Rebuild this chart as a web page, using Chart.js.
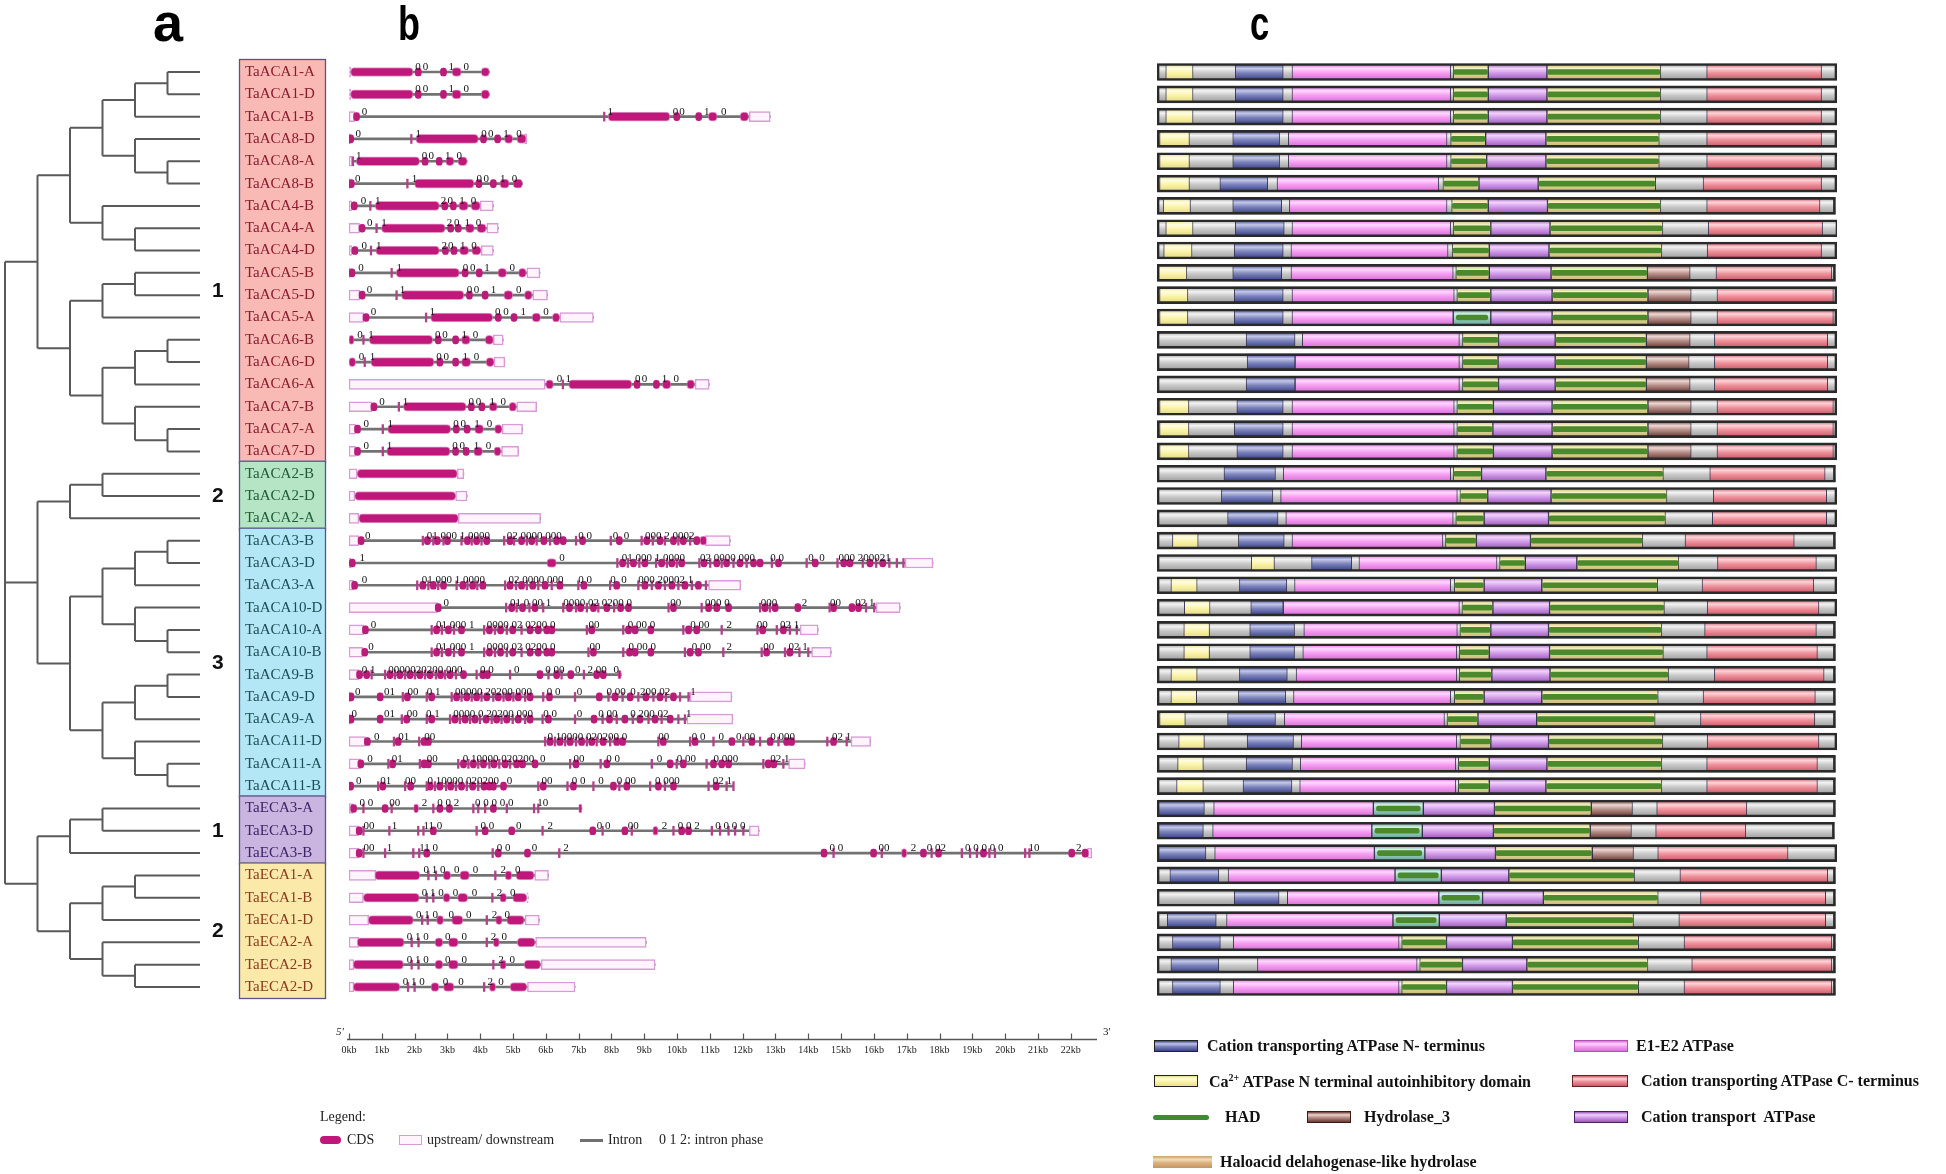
<!DOCTYPE html>
<html><head><meta charset="utf-8">
<script src="https://cdn.jsdelivr.net/npm/chart.js@4.4.1/dist/chart.umd.min.js"></script>
<style>
html,body{margin:0;padding:0;background:#fff;}
#wrap{position:relative;width:1946px;height:1174px;overflow:hidden;background:#fff;}
canvas{position:absolute;top:0;}
.t{position:absolute;white-space:nowrap;line-height:1;}
.pl{font-family:"Liberation Sans",Arial,sans-serif;font-weight:bold;color:#000;transform-origin:left top;}
.ser{font-family:"Liberation Serif","Times New Roman",serif;color:#222;font-size:14px;}
.lg{font-family:"Liberation Serif","Times New Roman",serif;font-weight:bold;font-size:16px;color:#111;}
.sw{position:absolute;box-sizing:border-box;}
</style></head><body><div id="wrap">
<canvas id="cTree" width="235" height="1174" style="left:0"></canvas>
<canvas id="cGene" width="885" height="1174" style="left:235px"></canvas>
<canvas id="cDom" width="806" height="1174" style="left:1140px"></canvas>

<div class="t pl" style="left:153px;top:-5px;font-size:54px;">a</div>
<div class="t pl" style="left:398px;top:0px;font-size:48px;transform:scaleX(0.75);">b</div>
<div class="t pl" style="left:1250px;top:0px;font-size:48px;transform:scaleX(0.72);">c</div>

<div class="t ser" style="left:336px;top:1026px;font-size:11px;font-style:italic;">5'</div>
<div class="t ser" style="left:1103px;top:1026px;font-size:11px;">3'</div>

<div class="t ser" style="left:320px;top:1110px;">Legend:</div>
<div class="sw" style="left:320px;top:1136px;width:21px;height:8px;background:#c0187a;border-radius:4px;"></div>
<div class="t ser" style="left:347px;top:1133px;">CDS</div>
<div class="sw" style="left:399px;top:1135px;width:23px;height:10px;background:#fff4fc;border:1.5px solid #d79bd7;"></div>
<div class="t ser" style="left:427px;top:1133px;">upstream/ downstream</div>
<div class="sw" style="left:580px;top:1139px;width:23px;height:3px;background:#707070;"></div>
<div class="t ser" style="left:608px;top:1133px;">Intron</div>
<div class="t ser" style="left:659px;top:1133px;">0 1 2: intron phase</div>

<div class="sw" style="left:1154px;top:1040px;width:44px;height:12px;border:1.5px solid #222;background:linear-gradient(#3a4288,#c0c4e6 28%,#7d84bc 55%,#3a4288);"></div>
<div class="t lg" style="left:1207px;top:1038px;">Cation transporting ATPase N- terminus</div>
<div class="sw" style="left:1574px;top:1040px;width:54px;height:12px;border:1px solid #b050b0;background:linear-gradient(#d870d8,#ffd4ff 28%,#f6a0f2 55%,#d870d8);"></div>
<div class="t lg" style="left:1636px;top:1038px;">E1-E2 ATPase</div>

<div class="sw" style="left:1154px;top:1075px;width:44px;height:12px;border:1.5px solid #222;background:linear-gradient(#e8e08a,#fffde0 28%,#fbf4a8 55%,#e8e08a);"></div>
<div class="t lg" style="left:1209px;top:1073px;">Ca<sup style="font-size:10px;">2+</sup> ATPase N terminal autoinhibitory domain</div>
<div class="sw" style="left:1572px;top:1075px;width:56px;height:12px;border:1.5px solid #6a2020;background:linear-gradient(#c85a68,#fcd0d4 28%,#f0929c 55%,#c85a68);"></div>
<div class="t lg" style="left:1641px;top:1073px;">Cation transporting ATPase C- terminus</div>

<div class="sw" style="left:1153px;top:1115px;width:56px;height:5px;background:#3f8a35;border-radius:3px;"></div>
<div class="t lg" style="left:1225px;top:1109px;">HAD</div>
<div class="sw" style="left:1307px;top:1111px;width:44px;height:12px;border:1.5px solid #3a1a14;background:linear-gradient(#6a3a32,#ecd4d0 28%,#b8908a 55%,#6a3a32);"></div>
<div class="t lg" style="left:1364px;top:1109px;">Hydrolase_3</div>
<div class="sw" style="left:1574px;top:1111px;width:54px;height:12px;border:1.5px solid #4a2060;background:linear-gradient(#9a5ab8,#f0d0fa 28%,#d29cea 55%,#9a5ab8);"></div>
<div class="t lg" style="left:1641px;top:1109px;">Cation transport&nbsp; ATPase</div>

<div class="sw" style="left:1153px;top:1156px;width:59px;height:12px;background:linear-gradient(#c8a070,#f4dcb4 30%,#dcb482 55%,#c49464);"></div>
<div class="t lg" style="left:1220px;top:1154px;">Haloacid delahogenase-like hydrolase</div>
</div>
<script>
// ---------------- DATA ----------------
const genes = ['TaACA1-A','TaACA1-D','TaACA1-B','TaACA8-D','TaACA8-A','TaACA8-B','TaACA4-B','TaACA4-A','TaACA4-D','TaACA5-B','TaACA5-D','TaACA5-A','TaACA6-B','TaACA6-D','TaACA6-A','TaACA7-B','TaACA7-A','TaACA7-D','TaACA2-B','TaACA2-D','TaACA2-A','TaACA3-B','TaACA3-D','TaACA3-A','TaACA10-D','TaACA10-A','TaACA10-B','TaACA9-B','TaACA9-D','TaACA9-A','TaACA11-D','TaACA11-A','TaACA11-B','TaECA3-A','TaECA3-D','TaECA3-B','TaECA1-A','TaECA1-B','TaECA1-D','TaECA2-A','TaECA2-B','TaECA2-D'];

// cladogram: [nodeDepth, children...], leaves = row index
const tree = [0,
  [1,
    [2, [3, [4, [5,0,1], 2], [4, 3, [5,4,5]]], [3, 6, [4,7,8]]],
    [2, [3, [4,9,10], 11], [3, [4, [5,12,13], 14], [4, 15, [5,16,17]]]]
  ],
  [1,
    [2, [3,18,19], 20],
    [2, [3, [4, [5,21,22], 23], [4, 24, [5,25,26]]], [3, [4, [5,27,28], 29], [4, 30, [5,31,32]]]]
  ],
  [1,
    [2, [3,33,34], 35],
    [2, [3, [4,36,37], 38], [3, 39, [4,40,41]]]
  ]
];
const leafDepth = 6;

const groupFirst = [0,18,21,33,36];
const groupLast  = [17,20,32,35,41];
const groupNumber = ['1','2','3','1','2'];
const groupNumberRow = [9.8,19,26.5,34,38.5];

// gene structure (kb)
const utr = [
 [0,0.05],[0,0.05],[0,0.18,12.2,12.84],[0,0.04,5.35,5.42],[0,0.1],[0,0.03],
 [0,0.08,4.0,4.4],[0,0.32,4.2,4.55],[0,0.08,4.03,4.4],[0,0.03,5.42,5.82],[0,0.33,5.6,6.05],[0,0.45,6.43,7.45],
 [4.4,4.7],[4.42,4.75],[0,5.98,10.55,10.98],[0,0.7,5.11,5.72],[0,0.2,4.67,5.29],[0,0.2,4.65,5.17],
 [0,0.25,3.3,3.5],[0,0.18,3.25,3.6],[0,0.3,3.33,5.84],
 [0,0.3,10.85,11.62],[0,0.05,16.95,17.8],[0,0.15,10.96,11.94],[0,2.7,16.07,16.8],[0,0.45,13.75,14.3],[0,0.42,14.1,14.7],
 [0,0.3],[0,0.03,10.4,11.67],[0,0.03,10.3,11.7],[0,0.5,15.3,15.9],[0,0.35,13.4,13.9],[],
 [0,0.12],[0,0.3,12.2,12.5],[0,0.3,22.51,22.64],
 [0,0.82,5.66,6.08],[0,0.44,5.42,5.46],[0,0.6,5.37,5.8],[0,0.3,5.69,9.06],[0,0.15,5.86,9.33],[0,0.15,5.44,6.89]
];
const cds = [
 [0.05,1.95,3.14,3.42,4.03,4.28],
 [0.05,1.95,3.14,3.42,4.03,4.28],
 [7.9,9.78,10.95,11.22,11.92,12.18],
 [2.04,3.94,4.74,4.99,5.12,5.4],
 [0.22,2.15,2.95,3.2,3.32,3.6],
 [2.0,3.81,4.6,4.88,5.0,5.29],
 [0.8,2.75,3.35,3.63,3.72,4.0],
 [0.99,2.93,3.55,3.82,3.9,4.18],
 [0.82,2.75,3.37,3.65,3.74,4.02],
 [1.44,3.36,4.54,4.8,5.17,5.4],
 [1.6,3.5,4.72,4.99,5.35,5.58],
 [2.49,4.38,5.58,5.84,6.2,6.42],
 [0,0.15,0.62,2.55,3.43,3.69,4.15,4.4],
 [0,0.2,0.67,2.59,3.43,3.71,4.18,4.42],
 [6.0,6.23,6.7,8.62,9.55,9.81,10.3,10.53],
 [1.66,3.57,4.27,4.52,4.88,5.1],
 [1.18,3.1,3.83,4.1,4.44,4.66],
 [1.15,3.08,3.8,4.07,4.42,4.63],
 [0.25,3.3],[0.18,3.25],[0.3,3.33],
 [10.7,10.9],[6.03,6.32],[],[],[],[],
 [8.19,8.3],[],[],[],[],[],
 [1.97,2.12,7.0,7.1],[9.26,9.42],[16.84,17.0],
 [0.79,2.16,2.87,3.1,3.38,3.67,4.76,4.96,5.09,5.64],
 [0.44,2.14,2.87,3.08,3.31,3.62,4.6,4.8,4.99,5.42],
 [0.59,1.96,2.67,2.88,3.13,3.47,4.47,4.67,4.81,5.34],
 [0.25,1.68,2.62,2.86,3.03,3.33,4.4,4.58,5.13,5.67],
 [0.13,1.66,2.62,2.86,3.03,3.33,4.6,4.79,5.34,5.84],
 [0.13,1.55,2.5,2.74,2.88,3.2,4.28,4.47,4.91,5.42]
];
// short exons drawn as dots (centres, kb)
const dots = [
 [2.11,2.88],[2.11,2.88],[0.23,9.99,10.66],[0.05,4.1,4.53],[2.32,2.75],[0.07,3.96,4.4],
 [0.16,2.92,3.18],[0.4,3.1,3.33],[0.18,2.94,3.2],[0.09,3.54,3.97],[0.4,3.67,4.15],[0.52,4.55,5.03],
 [2.72,3.25],[2.77,3.25],[8.78,9.37],[0.76,3.73,4.05],[0.26,3.27,3.6],[0.26,3.25,3.57],
 [],[],[],
 [0.37,2.39,2.69,3.0,3.61,3.89,4.2,4.91,5.26,5.57,5.94,6.33,6.53,7.12,8.24,9.08,9.48,9.89,10.19,10.6],
 [0.1,8.34,8.67,9.02,9.53,9.84,10.14,10.82,11.21,11.51,11.92,12.33,12.53,13.09,14.21,15.08,15.27,15.88,16.27],
 [0.17,2.25,2.57,2.88,3.47,3.77,4.08,4.91,5.26,5.6,5.98,6.43,7.16,8.16,9.02,9.43,9.84,10.24,10.65],
 [2.72,4.96,5.29,5.67,6.72,7.06,7.45,7.86,8.28,8.52,9.89,10.96,11.21,11.57,12.68,12.99,13.68,14.77,15.33,15.53],
 [0.5,2.67,3.03,3.43,4.28,4.62,4.99,5.52,5.77,6.03,6.18,7.4,8.52,8.72,9.2,10.35,10.6,12.61,13.24],
 [0.48,2.67,3.03,3.43,4.28,4.62,4.99,5.52,5.77,6.03,6.18,7.45,8.55,8.72,9.2,10.4,10.65,12.73,13.44],
 [0.32,0.54,1.25,1.55,1.86,2.16,2.47,2.79,3.08,3.49,4.08,4.22,5.82,6.33,6.76,7.55,7.75],
 [0.06,0.95,1.78,2.52,3.28,3.59,3.89,4.2,4.55,4.86,5.16,5.52,6.11,7.63,8.11,8.57,9.05,9.48,9.89],
 [0.06,0.95,1.76,2.52,3.23,3.54,3.84,4.18,4.5,4.81,5.16,5.52,6.08,7.47,7.94,8.41,8.87,9.33,9.79],
 [0.56,1.5,2.29,2.42,6.13,6.43,6.74,7.09,7.4,7.75,8.16,8.34,9.58,10.55,11.67,12.28,12.84,13.34,13.49,14.77],
 [0.36,1.33,2.29,2.42,3.49,3.79,4.1,4.42,4.76,5.11,5.29,5.67,6.92,7.86,9.79,10.19,11.11,11.36,11.57,12.78,12.95],
 [0.05,1.03,1.88,2.47,2.77,3.1,3.43,3.77,4.12,4.28,4.4,4.71,5.92,6.84,8.06,8.47,9.43,9.89,11.19],
 [0.14,1.1,2.77,3.06,4.4],
 [0.31,2.57,4.15,4.96,7.43,8.41,10.14,10.35],
 [0.31,2.37,4.55,5.44,14.48,15.99,17.51,17.97,19.34,22.03,22.44],
 [],[],[],[],[],[]
];
// very short exons drawn as ticks (centres, kb)
const ticks = [
 [],[],[7.78],[1.9],[0.12],[1.78],
 [0.65],[0.84],[0.67],[1.3],[1.45],[2.35],
 [0.44],[0.48],[6.52],[1.52],[1.03],[1.03],
 [],[],[],
 [2.25,2.57,2.88,3.43,3.74,4.04,4.73,5.03,5.42,5.72,6.13,6.92,7.98,8.92,9.26,9.63,10.04,10.4],
 [8.18,8.5,8.85,9.36,9.69,9.99,10.68,11.01,11.36,11.72,12.12,12.89,13.95,14.89,15.66,16.07,16.47,16.7,16.9],
 [2.08,2.42,2.72,3.28,3.61,3.91,4.76,5.09,5.42,5.77,6.18,6.99,7.96,8.82,9.23,9.63,10.04,10.45,10.88],
 [4.79,5.11,5.5,5.92,6.53,6.92,7.25,7.6,8.08,9.74,10.75,12.53,12.83,14.65,15.76,16.01],
 [2.52,2.83,3.2,4.12,4.45,4.81,5.26,7.25,8.36,10.19,11.36,12.45,13.04,13.44,13.65],
 [2.52,2.83,3.2,4.12,4.45,4.81,5.26,7.3,8.36,10.24,11.41,12.58,13.29,13.73,14.0],
 [0.69,1.1,1.4,1.71,2.01,2.32,2.65,2.93,3.26,3.89,4.91,6.08,6.48,7.16],
 [1.64,2.37,3.13,3.43,3.74,4.04,4.4,4.71,5.01,5.37,5.92,6.89,7.91,8.34,8.82,9.28,9.66,10.09,10.35],
 [1.61,2.37,3.08,3.38,3.69,3.99,4.35,4.65,4.99,5.37,5.9,6.89,7.73,8.16,8.65,9.13,9.53,10.04,10.24],
 [1.37,2.14,5.98,6.28,6.59,6.92,7.25,7.55,7.96,9.43,10.4,11.11,12.02,12.53,13.09,14.58,15.17],
 [1.2,2.16,3.33,3.64,3.94,4.28,4.58,4.91,6.74,7.67,9.23,9.99,10.9,12.63,13.24],
 [0.89,1.71,2.37,2.62,2.96,3.26,3.59,3.94,5.77,6.66,7.45,8.24,9.18,9.63,10.96,11.51,11.72],
 [0.44,1.3,2.57,3.79,3.94,4.15,4.81,5.64,5.77],
 [0.44,1.23,2.11,2.27,3.89,5.9,7.73,8.62,9.89,11.06,11.31,11.57,11.77,12.02],
 [0.44,1.1,1.96,2.14,4.38,6.41,14.77,16.24,17.76,18.68,18.93,19.14,19.52,19.69,20.61,20.74],
 [2.42,2.65,4.46],[2.37,2.57,4.37],[2.23,2.4,4.2],[1.91,2.12,4.2],[1.91,2.12,4.4],[1.8,2.0,4.12]
];
// intron phase labels [kb, text]
const phases = [
 [[2.02,'0'],[2.25,'0'],[3.03,'1'],[3.49,'0']],
 [[2.02,'0'],[2.25,'0'],[3.03,'1'],[3.49,'0']],
 [[0.39,'0'],[7.88,'1'],[9.87,'0'],[10.07,'0'],[10.82,'1'],[11.34,'0']],
 [[0.2,'0'],[2.03,'1'],[4.03,'0'],[4.24,'0'],[4.7,'1'],[5.1,'0']],
 [[0.21,'1'],[2.22,'0'],[2.42,'0'],[2.93,'1'],[3.28,'0']],
 [[0.18,'0'],[1.91,'1'],[3.89,'0'],[4.1,'0'],[4.6,'1'],[4.96,'0']],
 [[0.36,'0'],[0.79,'1'],[2.8,'2'],[3.0,'0'],[3.36,'1'],[3.71,'0']],
 [[0.55,'0'],[0.98,'1'],[2.98,'2'],[3.2,'0'],[3.52,'1'],[3.86,'0']],
 [[0.38,'0'],[0.82,'1'],[2.82,'2'],[3.02,'0'],[3.38,'1'],[3.73,'0']],
 [[0.28,'0'],[1.45,'1'],[3.47,'0'],[3.69,'0'],[4.12,'1'],[4.89,'0']],
 [[0.54,'0'],[1.55,'1'],[3.59,'0'],[3.8,'0'],[4.32,'1'],[5.09,'0']],
 [[0.66,'0'],[2.45,'1'],[4.45,'0'],[4.7,'0'],[5.23,'1'],[5.92,'0']],
 [[0.25,'0'],[0.59,'1'],[2.62,'0'],[2.84,'0'],[3.43,'1'],[3.77,'0']],
 [[0.3,'0'],[0.63,'1'],[2.66,'0'],[2.88,'0'],[3.46,'1'],[3.8,'0']],
 [[6.33,'0'],[6.6,'1'],[8.72,'0'],[8.92,'0'],[9.53,'1'],[9.89,'0']],
 [[0.92,'0'],[1.64,'1'],[3.64,'0'],[3.86,'0'],[4.28,'1'],[4.62,'0']],
 [[0.44,'0'],[1.17,'1'],[3.18,'0'],[3.4,'0'],[3.82,'1'],[4.2,'0']],
 [[0.44,'0'],[1.15,'1'],[3.15,'0'],[3.37,'0'],[3.8,'1'],[4.17,'0']],
 [],[],[],
 [[0.49,'0'],[2.37,'01 000 1 0000'],[4.81,'02 0000 000'],[6.99,'0 0'],[8.04,'0  0'],[9.02,'000 2 0002']],
 [[0.32,'1'],[6.41,'0'],[8.31,'01 000 1 0000'],[10.7,'02 0000 000'],[12.84,'0 0'],[14.0,'0  0'],[14.92,'000 200021']],
 [[0.39,'0'],[2.22,'01 000 1 0000'],[4.86,'02 0000 000'],[6.99,'0 0'],[7.96,'0  0'],[8.82,'000 20002 1']],
 [[2.88,'0'],[4.91,'01 0 00 1'],[6.53,'0000 02 0200 0'],[9.79,'00'],[10.85,'000 0'],[12.55,'000'],[13.8,'2'],[14.66,'00'],[15.43,'02 1']],
 [[0.66,'0'],[2.65,'01 000 1'],[4.2,'0000 02 0200 0'],[7.3,'00'],[8.5,'0 00 0'],[10.4,'0 00'],[11.51,'2'],[12.43,'00'],[13.14,'02 1']],
 [[0.59,'0'],[2.65,'01 000 1'],[4.2,'0000 02 0200 0'],[7.33,'00'],[8.52,'0 00 0'],[10.45,'0 00'],[11.51,'2'],[12.63,'00'],[13.4,'02 1']],
 [[0.39,'0 1'],[1.2,'0000020200 000'],[3.99,'0 0'],[5.03,'0'],[5.98,'0 00'],[6.89,'0'],[7.27,'2 00'],[8.06,'0']],
 [[0.18,'0'],[1.07,'01'],[1.78,'00'],[2.37,'0 1'],[3.23,'00000 20200 000'],[6.03,'0 0'],[6.94,'0'],[7.85,'0 00'],[8.57,'0'],[8.87,'200 02'],[10.4,'1']],
 [[0.08,'0'],[1.07,'01'],[1.76,'00'],[2.35,'0 1'],[3.18,'0000 0 20200 000'],[5.92,'0 0'],[6.94,'0'],[7.6,'0 00'],[8.57,'0'],[8.82,'200 02'],[10.27,'1']],
 [[0.76,'0'],[1.5,'01'],[2.29,'00'],[6.05,'0 10000 020200 0'],[9.43,'00'],[10.45,'0 0'],[11.26,'0'],[11.8,'0 00'],[12.84,'0 000'],[14.72,'02 1']],
 [[0.56,'0'],[1.3,'01'],[2.37,'00'],[3.47,'0 10000 020200'],[5.82,'0'],[6.84,'00'],[7.84,'0 0'],[9.38,'0'],[9.99,'0 00'],[11.11,'0 000'],[12.84,'02 1']],
 [[0.21,'0'],[0.95,'01'],[1.71,'00'],[2.39,'0 10000 020200'],[4.81,'0'],[5.87,'00'],[6.79,'0 0'],[7.6,'0'],[8.16,'0 00'],[9.33,'0 000'],[11.09,'02 1']],
 [[0.32,'0 0'],[1.23,'00'],[2.22,'2'],[2.69,'0 0 2'],[3.84,'0 0 0 0 0'],[5.74,'10']],
 [[0.44,'00'],[1.3,'1'],[2.27,'11 0'],[4.01,'0 0'],[5.09,'0'],[6.05,'2'],[7.55,'0 0'],[8.5,'00'],[9.53,'2'],[10.02,'0 0 2'],[11.16,'0 0 0 0']],
 [[0.44,'00'],[1.15,'1'],[2.14,'11 0'],[4.5,'0 0'],[5.57,'0'],[6.53,'2'],[14.65,'0 0'],[16.14,'00'],[17.12,'2'],[17.61,'0 02'],[18.78,'0 0 0 0 0'],[20.71,'10'],[22.16,'2']],
 [[2.27,'0 1 0'],[3.2,'0'],[3.77,'0'],[4.62,'2'],[5.06,'0']],
 [[2.22,'0 1 0'],[3.16,'0'],[3.74,'0'],[4.5,'2'],[4.91,'0']],
 [[2.04,'0 1 0'],[3.03,'0'],[3.57,'0'],[4.35,'2'],[4.74,'0']],
 [[1.76,'0 1 0'],[2.93,'0'],[3.43,'0'],[4.32,'2'],[4.65,'0']],
 [[1.76,'0 1 0'],[2.93,'0'],[3.43,'0'],[4.55,'2'],[4.89,'0']],
 [[1.64,'0 1 0'],[2.86,'0'],[3.33,'0'],[4.22,'2'],[4.55,'0']]
];
const kbTicks = [0,1,2,3,4,5,6,7,8,9,10,11,12,13,14,15,16,17,18,19,20,21,22];

// protein domains (relative residue position)
const protLen = [1320,1320,1320,1320,1320,1320,1317,1322,1320,1317,1320,1320,1320,1320,1320,1320,1320,1320,1317,1320,1320,1317,1320,1320,1320,1317,1317,1317,1317,1317,1320,1317,1317,1317,1315,1320,1317,1317,1317,1317,1317,1317];
const domains = [
 ['Y',17,70,'N',152,245,'P',262,570,'H',575,643,'C',643,757,'H',757,978,'R',1067,1290],
 ['Y',17,70,'N',152,245,'P',262,570,'H',575,643,'C',643,757,'H',757,978,'R',1067,1290],
 ['Y',17,70,'N',152,245,'P',262,570,'H',575,643,'C',643,757,'H',757,978,'R',1067,1290],
 ['Y',5,63,'N',147,238,'P',255,563,'H',570,638,'C',638,755,'H',755,975,'R',1067,1290],
 ['Y',5,63,'N',147,238,'P',255,563,'H',570,640,'C',640,755,'H',755,975,'R',1067,1290],
 ['Y',5,63,'N',122,215,'P',233,547,'H',555,625,'C',625,740,'H',740,968,'R',1060,1290],
 ['Y',12,65,'N',147,242,'P',257,563,'H',572,643,'C',643,758,'H',758,978,'R',1067,1287],
 ['Y',17,70,'N',152,247,'P',262,570,'H',575,648,'C',648,763,'H',763,982,'R',1070,1292],
 ['Y',13,68,'N',150,245,'P',260,565,'H',573,645,'C',645,761,'H',761,980,'R',1068,1290],
 ['Y',3,58,'N',147,242,'P',260,575,'H',580,645,'C',645,765,'H',765,952,'D',952,1035,'R',1085,1310],
 ['Y',5,60,'N',150,245,'P',262,577,'H',582,648,'C',648,767,'H',767,953,'D',953,1037,'R',1087,1313],
 ['Y',5,60,'N',150,245,'P',262,575,'T',575,648,'C',648,767,'H',767,953,'D',953,1037,'R',1087,1313],
 ['N',173,268,'P',282,587,'H',593,663,'C',663,773,'H',773,950,'D',950,1035,'R',1082,1302],
 ['N',175,268,'P',268,587,'H',593,662,'C',662,773,'H',773,950,'D',950,1033,'R',1082,1302],
 ['N',173,268,'P',268,587,'H',593,663,'C',663,773,'H',773,950,'D',950,1035,'R',1082,1302],
 ['Y',5,62,'N',155,245,'P',262,577,'H',582,653,'C',653,767,'H',767,953,'D',953,1037,'R',1087,1313],
 ['Y',5,62,'N',150,245,'P',262,577,'H',582,652,'C',652,767,'H',767,953,'D',953,1037,'R',1087,1313],
 ['Y',5,62,'N',155,245,'P',262,577,'H',582,653,'C',653,767,'H',767,953,'D',953,1037,'R',1087,1313],
 ['N',130,230,'P',245,570,'H',575,630,'C',630,755,'H',755,983,'R',1073,1297],
 ['N',125,225,'P',240,583,'H',588,642,'C',642,765,'H',765,990,'R',1080,1300],
 ['N',137,235,'P',250,575,'H',580,635,'C',635,760,'H',760,987,'R',1078,1300],
 ['Y',30,80,'N',158,247,'P',262,555,'H',560,620,'C',620,725,'H',725,943,'R',1025,1237],
 ['Y',183,228,'N',300,378,'P',392,660,'H',665,715,'C',715,815,'H',815,1013,'R',1088,1280],
 ['Y',27,78,'N',160,252,'P',267,570,'H',577,635,'C',635,747,'H',747,972,'R',1058,1275],
 ['Y',53,103,'N',182,245,'P',245,587,'H',592,652,'C',652,762,'H',762,985,'R',1068,1285],
 ['Y',52,102,'N',180,267,'P',285,583,'H',588,648,'C',648,760,'H',760,980,'R',1063,1280],
 ['Y',52,102,'N',180,267,'P',283,582,'H',587,645,'C',645,762,'H',762,983,'R',1067,1282],
 ['Y',27,78,'N',160,253,'P',270,582,'H',587,650,'C',650,763,'H',763,993,'R',1082,1295],
 ['Y',27,77,'N',158,250,'P',265,570,'H',577,635,'C',635,747,'H',747,973,'R',1060,1278],
 ['Y',5,55,'N',137,230,'P',247,558,'H',563,623,'C',623,737,'H',737,967,'R',1055,1277],
 ['Y',42,92,'N',175,265,'P',280,582,'H',588,648,'C',648,760,'H',760,982,'R',1068,1285],
 ['Y',40,90,'N',173,263,'P',278,580,'H',585,645,'C',645,757,'H',757,980,'R',1067,1282],
 ['Y',38,90,'N',167,262,'P',277,580,'H',585,645,'C',645,755,'H',755,980,'R',1067,1282],
 ['N',0,92,'P',110,420,'T',420,517,'C',517,655,'H',655,843,'D',843,923,'R',970,1145],
 ['N',0,90,'P',108,417,'T',417,515,'C',515,653,'H',653,841,'D',841,921,'R',968,1143],
 ['N',0,95,'P',112,422,'T',422,520,'C',520,657,'H',657,845,'D',845,925,'R',972,1225],
 ['N',25,120,'P',138,462,'T',462,552,'C',552,683,'H',683,927,'R',1015,1302],
 ['N',150,237,'P',253,547,'T',547,632,'C',632,750,'H',750,973,'R',1055,1298],
 ['N',20,115,'P',135,458,'T',458,548,'C',548,678,'H',678,925,'R',1013,1298],
 ['N',30,123,'P',148,470,'H',475,562,'C',562,690,'H',690,935,'R',1023,1310],
 ['N',27,120,'P',195,505,'H',510,593,'C',593,718,'H',718,953,'R',1038,1310],
 ['N',30,123,'P',148,470,'H',475,562,'C',562,690,'H',690,935,'R',1023,1310]
];

// ---------------- STYLE ----------------
const boxFill = ['#f9b9b4','#b6e5c6','#b3e7f6','#c9b5e0','#fbe9a9'];
const boxText = ['#8a1b2e','#1f5c33','#1d4e56','#3b2566','#8a3a1c'];
const domColors = {
  G:['#9c9c9c','#f3f3f3','#c9c9c9'],
  Y:['#e2d986','#fffde4','#fbf4a8'],
  N:['#343c84','#c4c8e8','#7d84bc'],
  P:['#d46ad4','#ffd8ff','#f6a0f2'],
  H:['#c4b670','#f6f0c4','#e0d69c'],
  C:['#9656b4','#f2d4fb','#d29cea'],
  R:['#c45664','#fdd4d8','#f0929c'],
  D:['#643630','#eed8d4','#b8908a'],
  T:['#62a294','#d4f0ea','#9ed2c6']
};
const yMin = -0.493, yMax = 43.33;
const yScale = {type:'linear',min:yMin,max:yMax,reverse:true,bounds:'data',grace:0,offset:false};

function rowOf(i){ let g=0; for(let k=0;k<groupFirst.length;k++){ if(i>=groupFirst[k] && i<=groupLast[k]) g=k; } return g; }
function pairs(list){ const out=[]; list.forEach((arr,i)=>{ for(let k=0;k<arr.length;k+=2) out.push({x:[arr[k],arr[k+1]],y:i}); }); return out; }
function centred(list,h){ const out=[]; list.forEach((arr,i)=>arr.forEach(c=>out.push({x:[c-h,c+h],y:i}))); return out; }

// ---------------- TREE ----------------
const segs = [];
function lay(node){
  if (typeof node === 'number') return {y:node, x:leafDepth};
  const d = node[0]; const kids = node.slice(1).map(lay);
  const y0 = kids[0].y, y1 = kids[kids.length-1].y;
  segs.push([[d,y0],[d,y1]]);
  kids.forEach(k=>segs.push([[d,k.y],[k.x,k.y]]));
  return {y:(y0+y1)/2, x:d};
}
lay(tree);
const treePts = [];
segs.forEach(s=>{ treePts.push({x:s[0][0],y:s[0][1]},{x:s[1][0],y:s[1][1]},{x:NaN,y:NaN}); });

new Chart(document.getElementById('cTree'), {
  type:'scatter',
  data:{datasets:[{data:treePts, showLine:true, spanGaps:false, borderColor:'#5a5a5a', borderWidth:2, pointRadius:0, clip:false}]},
  options:{
    responsive:false, animation:false, devicePixelRatio:1,
    layout:{autoPadding:false,padding:{left:5,right:35,top:61,bottom:135}},
    plugins:{legend:{display:false},tooltip:{enabled:false}},
    scales:{
      x:{type:'linear',min:0,max:leafDepth,bounds:'data',display:false},
      y:Object.assign({display:false},yScale)
    }
  },
  plugins:[{id:'grpnum',afterDraw(chart){
    const c=chart.ctx, xs=chart.scales.x, ys=chart.scales.y;
    c.save(); c.font='bold 21px "Liberation Sans", Arial, sans-serif'; c.fillStyle='#111';
    c.textAlign='center'; c.textBaseline='middle';
    groupNumber.forEach((t,k)=>c.fillText(t, xs.getPixelForValue(6.55), ys.getPixelForValue(groupNumberRow[k])));
    c.restore();
  }}]
});

// ---------------- GENE STRUCTURE ----------------
const spans = genes.map((g,i)=>{
  const all = [].concat(utr[i], cds[i], dots[i], ticks[i]);
  return [Math.min(...all), Math.max(...all)];
});

new Chart(document.getElementById('cGene'), {
  type:'bar',
  data:{datasets:[
    {label:'Intron', data:spans.map((s,i)=>({x:s,y:i})), backgroundColor:'#727272', barThickness:2, order:30},
    {label:'upstream/downstream', data:pairs(utr), backgroundColor:'#fff4fc', borderColor:'#d79bd7', borderWidth:1.5, borderSkipped:false, barThickness:10, order:20},
    {label:'CDS', data:pairs(cds), backgroundColor:'#c0187a', borderColor:'rgba(214,110,180,0.7)', borderWidth:1, borderRadius:4, borderSkipped:false, barThickness:9, order:10},
    {label:'CDS short', data:centred(dots,0.09), backgroundColor:'#bb1b79', borderRadius:4, borderSkipped:false, barThickness:8, order:9},
    {label:'CDS tiny', data:centred(ticks,0.025), backgroundColor:'#b4408a', barThickness:9, order:8}
  ]},
  options:{
    indexAxis:'y', responsive:false, animation:false, devicePixelRatio:1,
    grouped:false,
    layout:{autoPadding:false,padding:{left:10,right:23,top:61,bottom:115}},
    plugins:{legend:{display:false},tooltip:{enabled:false}},
    scales:{
      x:{type:'linear',min:0,max:22.8,bounds:'data',position:'bottom',
         grid:{display:false,drawTicks:false}, border:{display:false},
         afterBuildTicks:(a)=>{a.ticks=kbTicks.map(v=>({value:v}));},
         afterFit:(a)=>{a.height=20;},
         ticks:{autoSkip:false,maxRotation:0,padding:5,color:'#222',font:{family:'"Liberation Serif", serif',size:10},callback:(v)=>v+'kb'}},
      y:Object.assign({
         grid:{display:false,drawTicks:false}, border:{display:false},
         afterBuildTicks:(a)=>{a.ticks=genes.map((g,i)=>({value:i}));},
         afterFit:(a)=>{a.width=104;},
         ticks:{autoSkip:false,crossAlign:'far',padding:0,
           font:{family:'"Liberation Serif", "Times New Roman", serif',size:15},
           color:(ctx)=>boxText[rowOf(ctx.index)],
           callback:(v,idx)=>genes[idx]}}, yScale)
    }
  },
  plugins:[{
    id:'boxes',
    beforeDraw(chart){
      const c=chart.ctx, ys=chart.scales.y;
      c.save();
      groupFirst.forEach((f,k)=>{
        const top=ys.getPixelForValue(f)-13, bot=ys.getPixelForValue(groupLast[k])+12;
        c.fillStyle=boxFill[k]; c.fillRect(4,top,87,bot-top);
        c.strokeStyle='#55558a'; c.lineWidth=1.3; c.strokeRect(4.5,top+0.5,86,bot-top-1);
      });
      c.restore();
    },
    afterDatasetsDraw(chart){
      const c=chart.ctx, xs=chart.scales.x, ys=chart.scales.y;
      c.save();
      c.font='11px "Liberation Serif", serif'; c.fillStyle='#111'; c.textAlign='left'; c.textBaseline='alphabetic';
      phases.forEach((list,i)=>{ const yp=ys.getPixelForValue(i)-2; list.forEach(p=>c.fillText(p[1], xs.getPixelForValue(p[0]), yp)); });
      const yb=Math.round(chart.chartArea.bottom)+0.5;
      c.strokeStyle='#555'; c.lineWidth=1.5;
      c.beginPath(); c.moveTo(xs.getPixelForValue(0)-2,yb); c.lineTo(chart.chartArea.right,yb); c.stroke();
      c.lineWidth=1.2; c.beginPath();
      kbTicks.forEach(v=>{ const px=Math.round(xs.getPixelForValue(v))+0.5; c.moveTo(px,yb-6); c.lineTo(px,yb); });
      c.stroke();
      c.restore();
    }
  }]
});

// ---------------- DOMAINS ----------------
function gloss(code, thick){
  return (ctx)=>{
    const col=domColors[code], ch=ctx.chart;
    if(!ch.chartArea || !ctx.raw) return col[2];
    const yc=ch.scales.y.getPixelForValue(ctx.raw.y);
    const g=ch.ctx.createLinearGradient(0,yc-thick/2,0,yc+thick/2);
    g.addColorStop(0,col[0]); g.addColorStop(0.28,col[1]); g.addColorStop(0.55,col[2]); g.addColorStop(1,col[0]);
    return g;
  };
}
function collect(code){
  const out=[];
  domains.forEach((row,i)=>{ for(let k=0;k<row.length;k+=3){ if(row[k]===code) out.push({x:[row[k+1],row[k+2]],y:i}); } });
  return out;
}
function stripes(){
  const out=[];
  domains.forEach((row,i)=>{ for(let k=0;k<row.length;k+=3){
    if(row[k]==='H') out.push({x:[row[k+1]+1,row[k+2]-1],y:i});
    if(row[k]==='T') out.push({x:[row[k+1]+6,row[k+2]-6],y:i});
  } });
  return out;
}
const domTypes = ['Y','N','P','H','C','R','D','T'];
const domSets = [{label:'protein', data:protLen.map((L,i)=>({x:[0,L],y:i})), backgroundColor:gloss('G',16), barThickness:16, order:40}];
domTypes.forEach(code=>domSets.push({label:code, data:collect(code), backgroundColor:gloss(code,16), borderColor:'rgba(35,30,60,0.85)', borderWidth:1, borderSkipped:false, barThickness:16, order:20}));
domSets.push({label:'HAD', data:stripes(), backgroundColor:'#4a8a2c', borderRadius:2, borderSkipped:false, barThickness:5, order:10});
domSets.push({label:'outline', data:protLen.map((L,i)=>({x:[0,L],y:i})), backgroundColor:'rgba(0,0,0,0)', borderColor:'#2a2a2a', borderWidth:2, borderSkipped:false, barThickness:17, order:0});

new Chart(document.getElementById('cDom'), {
  type:'bar',
  data:{datasets:domSets},
  options:{
    indexAxis:'y', responsive:false, animation:false, devicePixelRatio:1,
    grouped:false,
    layout:{autoPadding:false,padding:{left:17,right:109,top:61,bottom:135}},
    plugins:{legend:{display:false},tooltip:{enabled:false}},
    scales:{
      x:{type:'linear',min:0,max:1320,bounds:'data',display:false},
      y:Object.assign({display:false},yScale)
    }
  }
});
</script>
</body></html>
